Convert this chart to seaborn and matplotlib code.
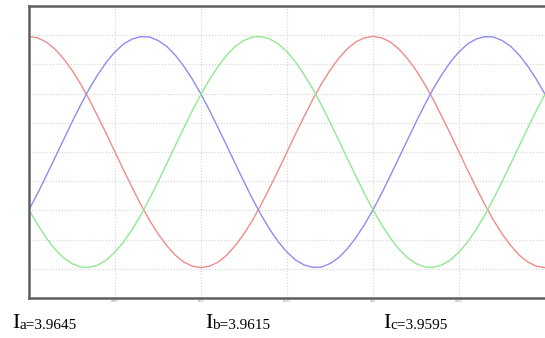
import numpy as np
import pandas as pd
import seaborn as sns
import matplotlib
matplotlib.use('Agg')
import matplotlib.pyplot as plt

# time axis, 0.5 ms steps over 30 ms
t = [round(0.0005 * k, 4) for k in range(61)]

ia = [3.96, 3.91, 3.77, 3.53, 3.20, 2.80, 2.33, 1.80, 1.22, 0.62, 0.00,
      -0.62, -1.22, -1.80, -2.33, -2.80, -3.20, -3.53, -3.77, -3.91, -3.96,
      -3.91, -3.77, -3.53, -3.20, -2.80, -2.33, -1.80, -1.22, -0.62, 0.00,
      0.62, 1.22, 1.80, 2.33, 2.80, 3.20, 3.53, 3.77, 3.91, 3.96,
      3.91, 3.77, 3.53, 3.20, 2.80, 2.33, 1.80, 1.22, 0.62, 0.00,
      -0.62, -1.22, -1.80, -2.33, -2.80, -3.20, -3.53, -3.77, -3.91, -3.96]

ib = [-1.98, -1.42, -0.82, -0.21, 0.41, 1.02, 1.61, 2.16, 2.65, 3.08, 3.43,
      3.70, 3.87, 3.95, 3.94, 3.82, 3.62, 3.32, 2.94, 2.49, 1.98,
      1.42, 0.82, 0.21, -0.41, -1.02, -1.61, -2.16, -2.65, -3.08, -3.43,
      -3.70, -3.87, -3.95, -3.94, -3.82, -3.62, -3.32, -2.94, -2.49, -1.98,
      -1.42, -0.82, -0.21, 0.41, 1.02, 1.61, 2.16, 2.65, 3.08, 3.43,
      3.70, 3.87, 3.95, 3.94, 3.82, 3.62, 3.32, 2.94, 2.49, 1.98]

ic = [-1.98, -2.49, -2.94, -3.32, -3.62, -3.82, -3.94, -3.95, -3.87, -3.70, -3.43,
      -3.08, -2.65, -2.16, -1.61, -1.02, -0.41, 0.21, 0.82, 1.42, 1.98,
      2.49, 2.94, 3.32, 3.62, 3.82, 3.94, 3.95, 3.87, 3.70, 3.43,
      3.08, 2.65, 2.16, 1.61, 1.02, 0.41, -0.21, -0.82, -1.42, -1.98,
      -2.49, -2.94, -3.32, -3.62, -3.82, -3.94, -3.95, -3.87, -3.70, -3.43,
      -3.08, -2.65, -2.16, -1.61, -1.02, -0.41, 0.21, 0.82, 1.42, 1.98]

phases = ['a', 'b', 'c']
rms_labels = ['a=3.9645', 'b=3.9615', 'c=3.9595']
xticks = [0.005, 0.01, 0.015, 0.02, 0.025]
yticks = [-5, -4, -3, -2, -1, 0, 1, 2, 3, 4, 5]

df = pd.DataFrame({'t': t * 3,
                   'I': ia + ib + ic,
                   'phase': ['a'] * len(t) + ['b'] * len(t) + ['c'] * len(t)})

sns.set_style('white')
plt.rcParams['font.family'] = ['Liberation Serif', 'DejaVu Serif']

fig = plt.figure(figsize=(5.45, 3.38), dpi=100)
ax = fig.add_axes([29 / 545, 40 / 338, 1 - 29 / 545, 292 / 338])

palette = {'a': '#ee8c8c', 'b': '#8f8cef', 'c': '#90e890'}
sns.lineplot(data=df, x='t', y='I', hue='phase', palette=palette,
             linewidth=1.0, legend=False, ax=ax, sort=False)

ax.set_xlim(0, 0.03)
ax.set_ylim(-5, 5)
ax.set_xticks(xticks)
ax.set_yticks(yticks)
ax.set_xticklabels([str(x) for x in xticks], fontsize=2.5, color='#777777')
ax.set_yticklabels([])
ax.set_xlabel('')
ax.set_ylabel('')
ax.grid(True, color='#d4d4d4', linestyle=':', linewidth=0.8)
ax.tick_params(direction='in', length=2.5, width=0.5, colors='#888888', pad=1)

for side in ['left', 'top', 'bottom']:
    ax.spines[side].set_color('#5f5f5f')
    ax.spines[side].set_linewidth(1.8)
ax.spines['right'].set_visible(False)

# current labels under the plot
for x0, lab in zip([12, 205, 383], rms_labels):
    fig.text(x0 / 545, 10 / 338, 'I', fontsize=16, ha='left', va='baseline', color='black')
    fig.text((x0 + 7) / 545, 9 / 338, lab, fontsize=11, ha='left', va='baseline', color='black')

plt.savefig('out.png', dpi=100)
